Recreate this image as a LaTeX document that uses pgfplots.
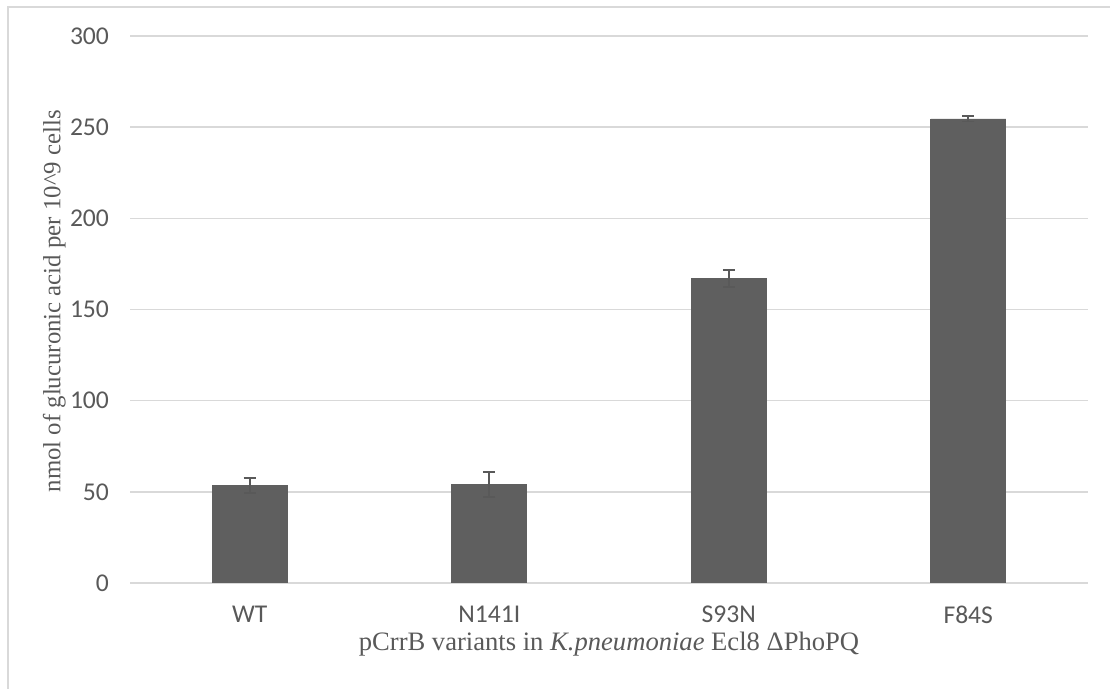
\documentclass[border=0pt]{standalone}
\usepackage{pgfplots}
\pgfplotsset{compat=1.18}
\usepackage{fontspec}
\setmainfont{Liberation Serif}
\newfontfamily\tickfont{Carlito}
\definecolor{gridc}{HTML}{D9D9D9}
\definecolor{barc}{HTML}{5F5F5F}
\definecolor{txtc}{HTML}{595959}
\begin{document}
\begin{tikzpicture}
\path[use as bounding box] (0,0) rectangle (555pt,344.5pt);
\draw[gridc, line width=0.8pt] (4pt,-2pt) -- (4pt,341pt) -- (560pt,341pt);
\begin{axis}[
  at={(65pt,53pt)}, anchor=south west,
  scale only axis, width=479pt, height=273.5pt,
  xmin=-0.5, xmax=3.5, ymin=0, ymax=300,
  xtick=data, xticklabels={WT,N141I,S93N,F84S},
  ytick={0,50,...,300},
  axis line style={draw=none},
  major tick style={draw=none},
  ymajorgrids, grid style={gridc, line width=0.8pt},
  ticklabel style={font=\tickfont\fontsize{12.8}{15}\selectfont, text=txtc},
  /pgf/number format/assume math mode=true,
  yticklabel style={xshift=-7pt},
  xticklabel style={yshift=-3.5pt},
  xlabel={pCrrB variants in \textit{K.pneumoniae} Ecl8 ΔPhoPQ},
  ylabel={nmol of glucuronic acid per 10\^{}9 cells},
  label style={font=\fontsize{13.3}{16}\selectfont, text=txtc},
  xlabel style={at={(axis description cs:0.5,-0.1115)}, anchor=center},
  ylabel style={at={(axis description cs:-0.079,0.515)}, anchor=center, font=\fontsize{12.4}{15}\selectfont},
  ybar, bar width=37.5pt,
]
\addplot[fill=barc, draw=barc,
  error bars/.cd, y dir=both, y explicit,
  error bar style={line width=0.8pt, color=txtc},
  error mark options={line width=0.8pt, color=txtc, mark size=3pt, rotate=90}]
  coordinates {
  (0,53.5) +- (0,4.2)
  (1,54.0) +- (0,7.0)
  (2,167.0) +- (0,4.7)
  (3,254.5) +- (0,1.5)
};
\end{axis}
\end{tikzpicture}
\end{document}
